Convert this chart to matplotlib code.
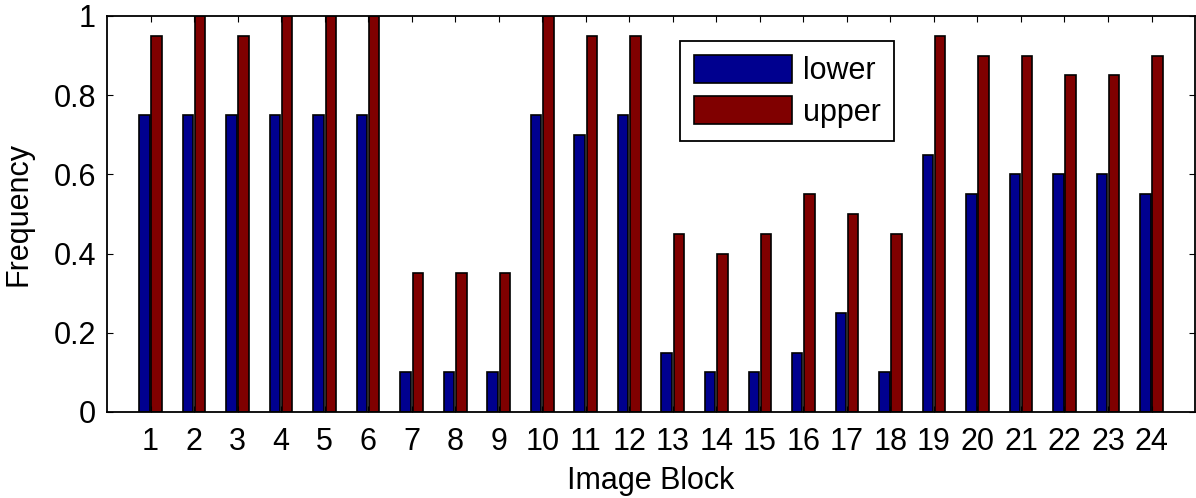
import numpy as np
import matplotlib
matplotlib.use("Agg")
import matplotlib.pyplot as plt

plt.rcParams["font.family"] = ["Liberation Sans", "DejaVu Sans"]

# frequency per image block
blocks = list(range(1, 25))
lower = [0.75, 0.75, 0.75, 0.75, 0.75, 0.75, 0.10, 0.10, 0.10, 0.75, 0.70, 0.75,
         0.15, 0.10, 0.10, 0.15, 0.25, 0.10, 0.65, 0.55, 0.60, 0.60, 0.60, 0.55]
upper = [0.95, 1.00, 0.95, 1.00, 1.00, 1.00, 0.35, 0.35, 0.35, 1.00, 0.95, 0.95,
         0.45, 0.40, 0.45, 0.55, 0.50, 0.45, 0.95, 0.90, 0.90, 0.85, 0.85, 0.90]
series_names = ["lower", "upper"]

BLUE = "#00008f"
RED = "#800000"
FS = 22

fig = plt.figure(figsize=(11.96, 4.98), dpi=100)
ax = fig.add_axes([0.0895, 0.1727, 0.9097, 0.7953])

x = np.array(blocks)
w = 0.24
off = 0.14
ax.bar(x - off, lower, width=w, color=BLUE, edgecolor="black", linewidth=1.2,
       label=series_names[0])
ax.bar(x + off, upper, width=w, color=RED, edgecolor="black", linewidth=1.2,
       label=series_names[1])

ax.set_xlim(0, 25)
ax.set_ylim(0, 1)
ax.set_xticks(blocks)
ax.set_xticklabels([str(b) for b in blocks])
ax.set_yticks([0, 0.2, 0.4, 0.6, 0.8, 1])
ax.set_yticklabels(["0", "0.2", "0.4", "0.6", "0.8", "1"])
ax.tick_params(direction="in", length=4, width=0.8, top=True, right=True,
               labelsize=FS, colors="black")
ax.tick_params(axis="x", pad=11)
ax.tick_params(axis="y", pad=8)
for s in ax.spines.values():
    s.set_linewidth(1.3)

ax.set_xlabel("Image Block", fontsize=FS, labelpad=6)
ax.set_ylabel("Frequency", fontsize=FS, labelpad=14)

leg = ax.legend(loc="upper left", bbox_to_anchor=(0.527, 0.937), fontsize=FS,
                handlelength=3.2, handleheight=1.05, handletextpad=0.35,
                labelspacing=0.32, borderpad=0.45, borderaxespad=0,
                fancybox=False, edgecolor="black", framealpha=1)
leg.get_frame().set_linewidth(1.3)

fig.savefig("out.png", dpi=100)
